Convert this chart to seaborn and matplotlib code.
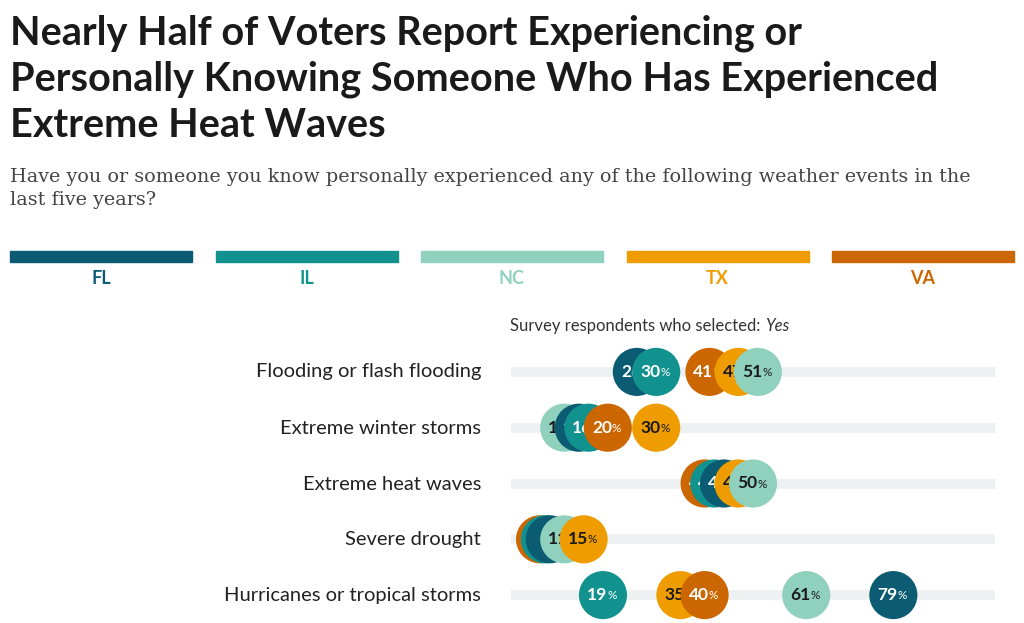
import matplotlib
matplotlib.use("Agg")
import matplotlib.pyplot as plt
import seaborn as sns
import pandas as pd
from matplotlib.patches import Rectangle

states = ["FL", "IL", "NC", "TX", "VA"]
colors = ["#0b5c73", "#11928f", "#90d1bd", "#ee9c00", "#cc6600"]
text_colors = ["white", "white", "#1a1a1a", "#1a1a1a", "white"]
events = ["Flooding or flash flooding", "Extreme winter storms", "Extreme heat waves",
          "Severe drought", "Hurricanes or tropical storms"]
fl = [26, 14, 44, 8, 79]
il = [30, 16, 42, 7, 19]
nc = [51, 11, 50, 11, 61]
tx = [47, 30, 47, 15, 35]
va = [41, 20, 40, 6, 40]

rows = []
for st, vals in zip(states, [fl, il, nc, tx, va]):
    for i, ev in enumerate(events):
        rows.append({"state": st, "event": ev, "row": i, "value": vals[i]})
df = pd.DataFrame(rows)

sns.set_theme(style="white")
plt.rcParams["font.family"] = ["Lato", "DejaVu Sans"]

W, H = 1024, 623
fig = plt.figure(figsize=(W / 100, H / 100), dpi=100)

fig.text(10 / W, 1 - 14 / H, "Nearly Half of Voters Report Experiencing or\nPersonally Knowing Someone Who Has Experienced\nExtreme Heat Waves",
         fontsize=28.5, fontweight="bold", va="top", ha="left", color="#1a1a1a", linespacing=1.3)
fig.text(10 / W, 1 - 168 / H, "Have you or someone you know personally experienced any of the following weather events in the\nlast five years?",
         fontsize=13.8, va="top", ha="left", color="#444444", family="DejaVu Serif", linespacing=1.35)

# legend bars
for k, (st, c) in enumerate(zip(states, colors)):
    x0 = 10 + k * 205.5
    fig.add_artist(Rectangle((x0 / W, 1 - 262 / H), 182 / W, 11 / H, color=c, transform=fig.transFigure))
    fig.text((x0 + 91) / W, 1 - 278 / H, st, color=c, fontsize=13, fontweight="bold", ha="center", va="center")

t1 = fig.text(510 / W, 1 - 326 / H, "Survey respondents who selected: ", fontsize=12, color="#333333", va="center")
fig.canvas.draw()
bb = t1.get_window_extent()
fig.text(bb.x1 / W, 1 - 326 / H, "Yes", fontsize=12, color="#333333", va="center", style="italic")

ax = fig.add_axes([511 / W, 0, 484 / W, 279 / H])
for i in range(len(events)):
    ax.plot([-1, 101], [i, i], color="#eef1f1", lw=7, solid_capstyle="butt", zorder=0)
    fig.text(481 / W, 1 - (372 + 56 * i) / H, events[i], ha="right", va="center", fontsize=14.5, color="#222222")

cmap = dict(zip(states, colors))
tmap = dict(zip(states, text_colors))
z = 1
for i in range(len(events)):
    sub = df[df.row == i].sort_values("value")
    for _, r in sub.iterrows():
        sns.scatterplot(x=[r.value], y=[r.row], color=cmap[r.state], s=1200, edgecolor="none", ax=ax, zorder=z, legend=False)
        ax.annotate(str(r.value), (r.value, r.row), xytext=(3, 0), textcoords="offset points",
                    ha="right", va="center", fontsize=12.5, fontweight="bold", color=tmap[r.state], zorder=z + 0.5)
        ax.annotate("%", (r.value, r.row), xytext=(3, -0.5), textcoords="offset points",
                    ha="left", va="center", fontsize=8.5, color=tmap[r.state], zorder=z + 0.5)
        z += 1

ax.set_xlim(0, 100)
ax.set_ylim(4.5, -0.5)
ax.axis("off")

fig.savefig("out.png", dpi=100)
